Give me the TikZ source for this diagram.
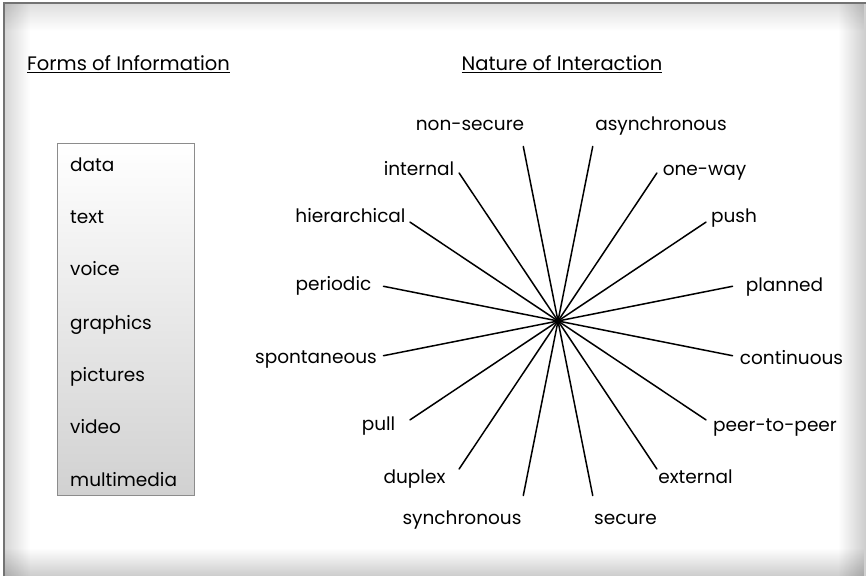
\documentclass[tikz,border=0pt]{standalone}
\usepackage{fontspec}
\setmainfont{Poppins}
\usetikzlibrary{fadings,calc}
\definecolor{frameline}{gray}{0.45}
\definecolor{boxline}{gray}{0.55}
\definecolor{boxlow}{gray}{0.82}

\begin{document}
\begin{tikzpicture}[x=1pt, y=1pt,
		every node/.style = {font=\fontsize{18.5}{22}\selectfont, inner sep=0pt},
		spoke/.style = {line width=1.5pt, line cap=round},
		lbl/.style = {anchor=mid},
		item/.style = {anchor=base west},
		title/.style = {anchor=base, font=\fontsize{19.5}{23}\selectfont}]
	\useasboundingbox (0,0) rectangle (866,576);
	% panel with soft inner shadow
	\fill[white] (0,0) rectangle (866,576);
	\fill[black, opacity=0.16, path fading=east] (4,0) rectangle (30,573);
	\fill[black, opacity=0.13, path fading=south] (4,545) rectangle (866,573);
	\fill[black, opacity=0.2, path fading=west] (838,0) rectangle (866,573);
	\fill[black, opacity=0.2, path fading=north] (4,0) rectangle (866,28);
	\draw[frameline, line width=1.2pt] (4,0) -- (4,573) -- (866,573);

	% headings
	\node[title] (forms) at (128.5,505) {\underline{Forms of Information}};
	\node[title] (nature) at (562,505) {\underline{Nature of Interaction}};

	% forms of information
	\shade[top color=white, bottom color=boxlow, draw=boxline, line width=0.8pt]
		(57,433) rectangle (194,81);
	\node[item] (data) at (70,404) {data};
	\node[item] (text) at (70,352) {text};
	\node[item] (voice) at (70,300) {voice};
	\node[item] (graphics) at (70,247) {graphics};
	\node[item] (pictures) at (70,195) {pictures};
	\node[item] (video) at (70,143) {video};
	\node[item] (multimedia) at (70,90) {multimedia};

	% nature of interaction
	\coordinate (hub) at (558,255);
	\foreach \ang/\nm/\lx/\ly/\txt in {
			101.25/nonsecure/470/448/non-secure,
			78.75/async/661/448/asynchronous,
			123.75/internal/419/403/internal,
			56.25/oneway/704.5/403/one-way,
			146.25/hier/350.5/356/hierarchical,
			33.75/push/734/356/push,
			168.75/periodic/333.5/288/periodic,
			11.25/planned/784.5/287/planned,
			191.25/spont/316/215/spontaneous,
			-11.25/contin/791.5/214/continuous,
			213.75/pull/378.5/148/pull,
			-33.75/peer/775/147/peer-to-peer,
			236.25/duplex/414.5/95/duplex,
			-56.25/external/695.5/95/external,
			258.75/sync/462/54/synchronous,
			-78.75/secure/625.5/54/secure}
	{
		\coordinate (e-\nm) at ($(hub)+(\ang:178)$);
		\node[lbl] (\nm) at (\lx,\ly) {\txt};
		\draw[spoke] (hub) -- (e-\nm);
	}
\end{tikzpicture}
\end{document}
